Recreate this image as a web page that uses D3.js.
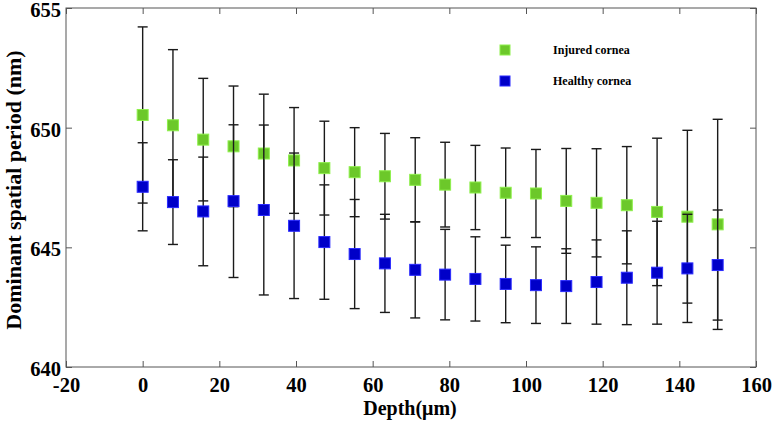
<!DOCTYPE html>
<html>
<head>
<meta charset="utf-8">
<script src="https://cdn.jsdelivr.net/npm/d3@7"></script>
<style>
  html, body { margin: 0; padding: 0; background: #fff; }
  svg { display: block; }
  text { font-family: "Liberation Serif", "Times New Roman", serif; font-weight: bold; fill: #000; }
</style>
</head>
<body>
<svg id="chart" width="774" height="423"></svg>
<script>
// ---- data ----
const depth = [0, 7.9, 15.8, 23.7, 31.6, 39.5, 47.4, 55.3, 63.2, 71.1, 78.9, 86.8, 94.7, 102.6, 110.5, 118.4, 126.3, 134.2, 142.1, 150];
const injured = [650.53, 650.10, 649.50, 649.22, 648.92, 648.63, 648.31, 648.14, 647.97, 647.82, 647.62, 647.50, 647.28, 647.25, 646.94, 646.86, 646.76, 646.48, 646.28, 645.96];
const injuredErr = [3.68, 3.16, 2.56, 2.52, 2.48, 2.21, 1.96, 1.86, 1.79, 1.76, 1.77, 1.76, 1.87, 1.84, 2.19, 2.26, 2.45, 3.08, 3.61, 4.39];
const healthy = [647.53, 646.89, 646.50, 646.93, 646.56, 645.90, 645.22, 644.72, 644.33, 644.06, 643.86, 643.68, 643.47, 643.42, 643.38, 643.55, 643.73, 643.94, 644.12, 644.26];
const healthyErr = [1.84, 1.77, 2.27, 3.19, 3.55, 3.04, 2.39, 2.28, 2.05, 2.01, 1.89, 1.76, 1.62, 1.60, 1.56, 1.76, 1.96, 2.15, 2.26, 2.30];
const xTicks = [-20, 0, 20, 40, 60, 80, 100, 120, 140, 160];
const yTicks = [640, 645, 650, 655];
const seriesNames = ["Injured cornea", "Healthy cornea"];
const seriesFill = ["#6cc82a", "#0000c8"];
const seriesStroke = ["#8ef04c", "#2a2aff"];

// ---- layout ----
const svg = d3.select("#chart");
const L = 66, T = 8, R = 756, B = 367;
const x = d3.scaleLinear().domain([-20, 160]).range([L, R]);
const y = d3.scaleLinear().domain([640, 655]).range([B, T]);

const axisColor = "#555";
const tickLen = 6;

// frame
svg.append("rect").attr("x", L).attr("y", T).attr("width", R - L).attr("height", B - T)
  .attr("fill", "none").attr("stroke", axisColor).attr("stroke-width", 1);

// axes via d3 axis generators (inward ticks)
const gx = svg.append("g").attr("transform", `translate(0,${B})`)
  .call(d3.axisBottom(x).tickValues(xTicks).tickSize(-tickLen).tickPadding(10).tickFormat(d => String(d)));
const gxTop = svg.append("g").attr("transform", `translate(0,${T})`)
  .call(d3.axisTop(x).tickValues(xTicks).tickSize(-tickLen).tickFormat(""));
const gy = svg.append("g").attr("transform", `translate(${L},0)`)
  .call(d3.axisLeft(y).tickValues(yTicks).tickSize(-tickLen).tickPadding(5).tickFormat(d => String(d)));
const gyR = svg.append("g").attr("transform", `translate(${R},0)`)
  .call(d3.axisRight(y).tickValues(yTicks).tickSize(-tickLen).tickFormat(""));

[gx, gxTop, gy, gyR].forEach(g => {
  g.select(".domain").remove();
  g.selectAll(".tick line").attr("stroke", axisColor).attr("stroke-width", 1);
});
[gx, gy].forEach(g => {
  g.selectAll(".tick text").attr("font-size", 20.5).attr("fill", "#000")
    .style("font-family", '"Liberation Serif", serif').style("font-weight", "bold");
});
gx.selectAll(".tick text").attr("dy", "0.71em");
gy.selectAll(".tick text").attr("dy", "0.42em");

// axis titles
svg.append("text").attr("x", 410).attr("y", 415)
  .attr("text-anchor", "middle").attr("font-size", 20).text("Depth(μm)");
svg.append("text").attr("transform", `translate(21,190) rotate(-90)`)
  .attr("text-anchor", "middle").attr("font-size", 22).text("Dominant spatial period (nm)");

// series
const series = [
  { vals: injured, errs: injuredErr },
  { vals: healthy, errs: healthyErr }
];
const capW = 10, ms = 11;

series.forEach((s, si) => {
  const data = depth.map((d, i) => ({ d, v: s.vals[i], e: s.errs[i] }));
  const g = svg.append("g");
  const eb = g.selectAll("g.eb").data(data).enter().append("g")
    .attr("stroke", "#1a1a1a").attr("stroke-width", 1.4);
  eb.append("line").attr("x1", p => x(p.d)).attr("x2", p => x(p.d))
    .attr("y1", p => y(p.v + p.e)).attr("y2", p => y(p.v - p.e));
  eb.append("line").attr("x1", p => x(p.d) - capW / 2).attr("x2", p => x(p.d) + capW / 2)
    .attr("y1", p => y(p.v + p.e)).attr("y2", p => y(p.v + p.e));
  eb.append("line").attr("x1", p => x(p.d) - capW / 2).attr("x2", p => x(p.d) + capW / 2)
    .attr("y1", p => y(p.v - p.e)).attr("y2", p => y(p.v - p.e));
  g.selectAll("rect").data(data).enter().append("rect")
    .attr("x", p => x(p.d) - ms / 2).attr("y", p => y(p.v) - ms / 2)
    .attr("width", ms).attr("height", ms)
    .attr("fill", seriesFill[si]).attr("stroke", seriesStroke[si]).attr("stroke-width", 1);
});

// legend
const leg = svg.append("g");
seriesNames.forEach((name, i) => {
  const ly = 50 + i * 31;
  leg.append("rect").attr("x", 500).attr("y", ly - 5).attr("width", 10).attr("height", 10)
    .attr("fill", seriesFill[i]).attr("stroke", seriesStroke[i]).attr("stroke-width", 1);
  leg.append("text").attr("x", 553).attr("y", ly).attr("dy", "0.35em")
    .attr("font-size", 12).text(name);
});
</script>
</body>
</html>
